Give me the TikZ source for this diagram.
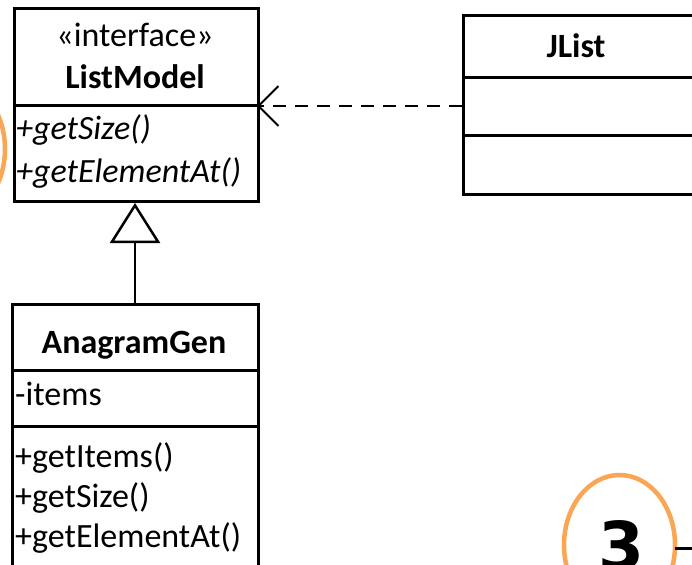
\documentclass[tikz,border=0pt]{standalone}
\usepackage{fontspec}
\setmainfont{Carlito}
\newfontfamily\digitfont{DejaVu Sans}
\usetikzlibrary{arrows.meta}
\definecolor{ringorange}{RGB}{250,166,85}
\begin{document}
\begin{tikzpicture}[x=1pt,y=-1pt,
  umlbox/.style={draw=black,line width=3pt,fill=white,inner sep=0pt,anchor=north west},
  divider/.style={line width=3pt},
  txt/.style={font=\fontsize{34}{40}\selectfont,inner sep=0pt,anchor=base},
  ltxt/.style={txt,anchor=base west},
  dep/.style={line width=2pt,dash pattern=on 13pt off 9pt,
    -{Straight Barb[length=20pt,width=40pt,line width=2pt]}},
  gen/.style={line width=2pt,
    -{Triangle[open,length=40pt,width=50pt,line width=2.5pt,fill=white]}},
  ring/.style={draw=ringorange,line width=4.5pt}]
\useasboundingbox (0,0) rectangle (692,564);
\clip (0,0) rectangle (692,564);
\fill[white] (0,0) rectangle (692,564);

% orange ring at left (partly visible)
\draw[ring] (-50.5,149) ellipse [x radius=55.5, y radius=70];

% ListModel
\node[umlbox,minimum width=244pt,minimum height=193pt] (lm) at (13,7) {};
\coordinate (lmdivL) at (13,106);
\coordinate (lmdivR) at (257,106);
\draw[divider] (lmdivL) -- (lmdivR);
\node[txt] (lmst) at (135,47) {«interface»};
\node[txt] (lmname) at (135,89) {\bfseries ListModel};
\node[ltxt] (lmop1) at (16,140) {\itshape +getSize()};
\node[ltxt] (lmop2) at (16,182) {\itshape +getElementAt()};

% JList
\node[umlbox,minimum width=270pt,minimum height=179pt] (jl) at (462,14) {};
\draw[divider] (462,78) -- (740,78);
\draw[divider] (462,136) -- (740,136);
\node[txt] (jlname) at (576,58) {\bfseries JList};

% AnagramGen
\node[umlbox,minimum width=246pt,minimum height=300pt] (ag) at (11,303) {};
\draw[divider] (11,370) -- (257,370);
\draw[divider] (11,426) -- (257,426);
\node[txt] (agname) at (134,353) {\bfseries AnagramGen};
\node[ltxt] (agat) at (15,405) {-items};
\node[ltxt] (agop1) at (15,467) {+getItems()};
\node[ltxt] (agop2) at (15,507) {+getSize()};
\node[ltxt] (agop3) at (15,547) {+getElementAt()};

% connectors
\draw[dep] (jl.west |- lmdivR) -- (lmdivR);
\draw[gen] (ag.north -| lmname) -- (lm.south -| lmname);

% ring 3
\node[inner sep=0pt,anchor=base,font=\digitfont\bfseries\fontsize{66}{70}\selectfont] (three) at (621,569) {3};
\draw[ring] (619.5,545) ellipse [x radius=55.5, y radius=70];
\coordinate (ringR) at (675,548);
\coordinate (offR) at (700,548);
\draw[line width=3pt] (ringR) -- (offR);
\end{tikzpicture}
\end{document}
